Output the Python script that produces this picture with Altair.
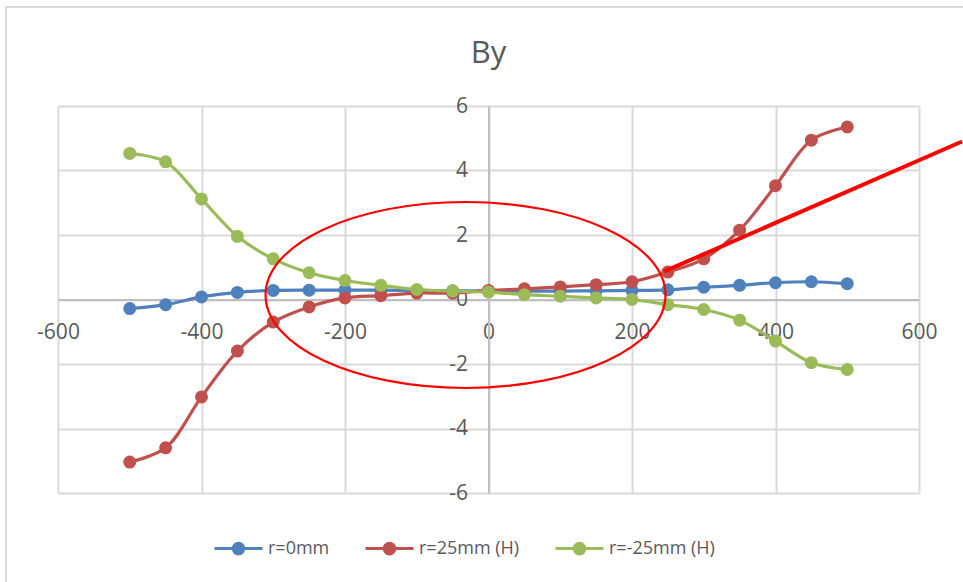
import altair as alt
import pandas as pd

# ---- data ----
x_pos = [-500, -450, -400, -350, -300, -250, -200, -150, -100, -50, 0,
         50, 100, 150, 200, 250, 300, 350, 400, 450, 500]
r_0mm = [-0.28, -0.16, 0.08, 0.22, 0.28, 0.29, 0.29, 0.29, 0.28, 0.27, 0.26,
         0.26, 0.26, 0.27, 0.28, 0.30, 0.38, 0.44, 0.52, 0.55, 0.49]
r_25mm = [-5.04, -4.60, -3.02, -1.60, -0.70, -0.23, 0.05, 0.12, 0.20, 0.20, 0.28,
          0.33, 0.39, 0.46, 0.55, 0.85, 1.26, 2.15, 3.53, 4.94, 5.35]
r_m25mm = [4.53, 4.27, 3.12, 1.96, 1.26, 0.83, 0.59, 0.44, 0.31, 0.26, 0.23,
           0.15, 0.10, 0.05, 0.00, -0.16, -0.31, -0.64, -1.29, -1.96, -2.17]
series_names = ["r=0mm", "r=25mm (H)", "r=-25mm (H)"]
series_colors = ["#4F81BD", "#C0504D", "#9BBB59"]
x_ticks = [-600, -400, -200, 0, 200, 400, 600]
y_ticks = [-6, -4, -2, 0, 2, 4, 6]

# annotation (hand-drawn red ellipse and red line) in data units
ellipse_center = {"cx": -32, "cy": 0.14}
pointer_x = [245, 660]
pointer_y = [0.87, 4.9]

rows = []
for name, vals in zip(series_names, [r_0mm, r_25mm, r_m25mm]):
    for xv, yv in zip(x_pos, vals):
        rows.append({"x": xv, "By": yv, "series": name})
df = pd.DataFrame(rows)
pointer_df = pd.DataFrame({"px": pointer_x, "py": pointer_y})

W, H = 861, 387
FONT = "Open Sans"
GRID = "#D9D9D9"
TXT = "#595959"

xscale = alt.Scale(domain=[-600, 600], nice=False, zero=False)
yscale = alt.Scale(domain=[-6, 6], nice=False, zero=False)
cscale = alt.Scale(domain=series_names, range=series_colors)

xaxis = alt.Axis(values=x_ticks, title=None, orient="bottom", offset=-H / 2,
                 grid=True, gridColor=GRID, gridWidth=2,
                 domainColor="#BFBFBF", domainWidth=2, ticks=False,
                 labelPadding=22, labelFont=FONT, labelFontSize=21, labelColor=TXT,
                 labelExpr="'' + datum.value", labelFlush=False, labelOverlap=False)
yaxis = alt.Axis(values=y_ticks, title=None, orient="left", offset=-W / 2,
                 grid=True, gridColor=GRID, gridWidth=2,
                 domainColor="#BFBFBF", domainWidth=2, ticks=False,
                 labelPadding=21, labelFont=FONT, labelFontSize=21, labelColor=TXT,
                 labelExpr="'' + datum.value", labelFlush=False, labelOverlap=False)

LEG_PATH = ("M-1,0L1,0M-0.22,0A0.22,0.22,0,1,0,0.22,0A0.22,0.22,0,1,0,-0.22,0Z")
legend = alt.Legend(orient="none", legendX=155, legendY=417, direction="horizontal",
                    title=None, symbolType=LEG_PATH, symbolSize=2304,
                    symbolStrokeWidth=3, labelFont=FONT, labelFontSize=18,
                    labelColor=TXT, labelOffset=4, columnPadding=29, padding=0)

base = alt.Chart(df)
lines = base.mark_line(strokeWidth=3.2, interpolate="catmull-rom").encode(
    x=alt.X("x:Q", scale=xscale, axis=xaxis),
    y=alt.Y("By:Q", scale=yscale, axis=yaxis),
    stroke=alt.Stroke("series:N", scale=cscale, legend=legend, sort=series_names),
)
points = base.mark_point(filled=True, size=100, strokeWidth=3, opacity=1).encode(
    x="x:Q", y="By:Q",
    fill=alt.Fill("series:N", scale=cscale, legend=legend, sort=series_names),
    stroke=alt.Stroke("series:N", scale=cscale, legend=legend, sort=series_names),
)

ELLIPSE = "M-1,0A1,0.465,0,1,0,1,0A1,0.465,0,1,0,-1,0Z"
ellipse = alt.Chart(alt.Data(values=[ellipse_center])).mark_point(
    shape=ELLIPSE, size=160000, filled=False, stroke="#FF0000",
    strokeWidth=2.2, opacity=1
).encode(x="cx:Q", y="cy:Q")

pointer = alt.Chart(pointer_df).mark_line(color="#FF0000", strokeWidth=4).encode(
    x="px:Q", y="py:Q")

frame = alt.Chart(alt.Data(values=[{}])).mark_rect(
    fillOpacity=0, stroke="#D9D9D9", strokeWidth=2
).encode(x=alt.value(-52), x2=alt.value(915), y=alt.value(-99), y2=alt.value(486))

chart = alt.layer(frame, lines, points, ellipse, pointer).properties(
    width=W, height=H,
    title=alt.TitleParams("By", font=FONT, fontSize=31, fontWeight="normal",
                          color=TXT, anchor="middle", frame="group",
                          baseline="alphabetic", offset=-88),
    autosize=alt.AutoSizeParams(type="none"),
    padding={"left": 58, "top": 106, "right": 44, "bottom": 89},
).configure_view(strokeWidth=0).configure(background="white")

chart.save("out.html", embed_options={"renderer": "svg", "actions": False})
